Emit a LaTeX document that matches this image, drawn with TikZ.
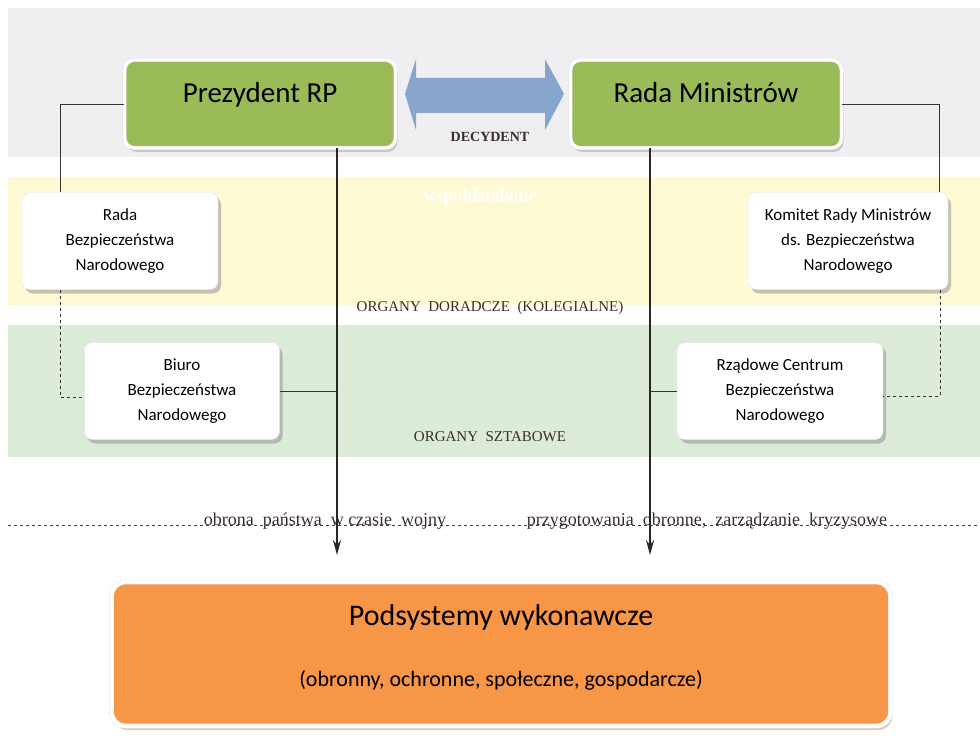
\documentclass[tikz,border=0pt]{standalone}
\usepackage{fontspec}
\setmainfont{Liberation Serif}
\newfontfamily\boxfont{Carlito}
\usetikzlibrary{shapes.geometric, arrows.meta, positioning, shadows, calc}

\definecolor{bandgray}{HTML}{EFEFF1}
\definecolor{bandyellow}{HTML}{FDFAD4}
\definecolor{bandgreen}{HTML}{DCEBD8}
\definecolor{olivegreen}{HTML}{9BBB59}
\definecolor{execorange}{HTML}{F79646}
\definecolor{linkblue}{HTML}{86A5CD}
\definecolor{labelink}{HTML}{3B2C2C}

\begin{document}
\begin{tikzpicture}[x=1pt, y=-1pt, node distance=446pt,
    decider/.style={rectangle, rounded corners=10pt, fill=olivegreen, draw=gray!25,
                    double=white, double distance=3pt, minimum width=271pt,
                    inner xsep=0pt, inner ysep=0pt, text height=43pt, text depth=45pt,
                    font=\boxfont\fontsize{29}{34}\selectfont,
                    drop shadow={shadow xshift=2pt, shadow yshift=-4pt, opacity=0.35}},
    advisor/.style={rectangle, rounded corners=8pt, fill=white, draw=gray!20,
                    minimum width=196pt, minimum height=97pt, align=center,
                    font=\boxfont\fontsize{17}{25}\selectfont,
                    drop shadow={shadow xshift=3pt, shadow yshift=-4pt, opacity=0.45}},
    execbox/.style={rectangle, rounded corners=14pt, fill=execorange, draw=gray!20,
                    double=white, double distance=4pt, minimum width=779pt,
                    minimum height=144pt, align=center, font=\boxfont,
                    drop shadow={shadow xshift=2pt, shadow yshift=-4pt, fill=brown!70, opacity=0.6}},
    tier/.style={font=\fontsize{15}{18}\selectfont, text=labelink},
    flow/.style={font=\fontsize{18}{20}\selectfont, text=labelink, anchor=base},
    arrow/.style={->, >={Stealth[length=15pt, width=8pt]}, line width=1.8pt, draw=black!85},
    link/.style={line width=0.9pt, draw=black!80},
    dlink/.style={link, dashed}]

    \useasboundingbox (0,0) rectangle (980,738);

    % Bands
    \fill[bandgray] (8,8) rectangle (980,157);
    \fill[bandyellow] (8,177) rectangle (980,305);
    \fill[bandgreen] (8,325) rectangle (980,457);

    % Decision level
    \node[decider] (prez) at (260,104) {Prezydent RP};
    \node[decider, right of=prez] (rada) {Rada Ministrów};
    \fill[linkblue] (405,94) -- (416,59) -- (416,78) -- (545,78) -- (545,59) -- (564,94)
        -- (545,130) -- (545,113) -- (416,113) -- (416,130) -- cycle;
    \node[font=\bfseries\fontsize{14}{16}\selectfont, text=labelink] (decydent) at (490,137) {DECYDENT};

    % Advisory and staff bodies
    \node[advisor] (rbn) at (120,241) {Rada\\Bezpieczeństwa\\Narodowego};
    \node[advisor, minimum width=200pt] (komitet) at (848,241) {Komitet Rady Ministrów\\ds. Bezpieczeństwa\\Narodowego};
    \node[advisor, minimum width=195pt] (biuro) at (182,391) {Biuro\\Bezpieczeństwa\\Narodowego};
    \node[advisor, minimum width=206pt] (rcbn) at (780,391) {Rządowe Centrum\\Bezpieczeństwa\\Narodowego};

    \node[font=\bfseries\fontsize{18}{20}\selectfont, text=white] (wspol) at (480,197) {współdziałanie};
    \node[tier] (doradcze) at (490,308) {ORGANY\ \ DORADCZE\ \ (KOLEGIALNE)};
    \node[tier] (sztabowe) at (490,437) {ORGANY\ \ SZTABOWE};

    % Executive level
    \node[execbox] (podsys) at (501,654) {{\fontsize{30}{34}\selectfont Podsystemy wykonawcze}\\[39pt]
        {\fontsize{22}{25}\selectfont (obronny, ochronne, społeczne, gospodarcze)\rule[-16pt]{0pt}{1pt}}};

    \coordinate (pend) at (337,555);
    \coordinate (rend) at (650,555);
    \coordinate (dleft) at (8,525);
    \coordinate (dright) at (980,525);

    % Arrows
    \draw[dashed, line width=0.7pt, black!75] (dleft) -- (dright);
    \node[flow] (wojna) at (325,525) {obrona\ \ państwa\ \ w czasie\ \ wojny};
    \node[flow] (kryzys) at (707,525) {przygotowania\ \ obronne,\ \ zarządzanie\ \ kryzysowe};
    \draw[arrow] (prez.south -| pend) -- (pend);
    \draw[arrow] (rada.south -| rend) -- (rend);

    \draw[link] (prez.west) -| ([xshift=-60pt]rbn.north);
    \draw[link] (rada.east) -| ([xshift=91pt]komitet.north);
    \draw[dlink] ([xshift=-60pt]rbn.south) |- ([yshift=-6pt]biuro.west);
    \draw[dlink] ([xshift=92pt]komitet.south) |- ([yshift=-5pt]rcbn.east);
    \draw[link] (biuro.east) -- (biuro.east -| pend);
    \draw[link] (rcbn.west) -- (rcbn.west -| rend);

\end{tikzpicture}
\end{document}
